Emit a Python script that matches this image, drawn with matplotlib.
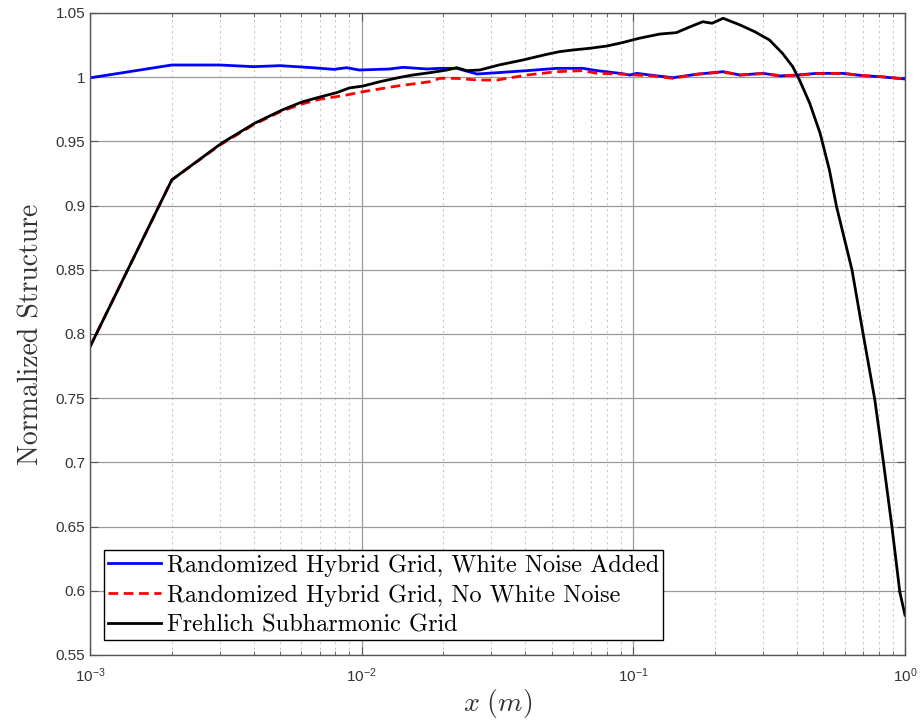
"""Normalized structure function vs separation, three phase screen grids."""
import numpy as np
import matplotlib
matplotlib.use("Agg")
import matplotlib.pyplot as plt
from matplotlib.ticker import FixedLocator, LogLocator, NullFormatter, FuncFormatter

# sans tick labels, cm for the x label
plt.rcParams["mathtext.fontset"] = "custom"
plt.rcParams["mathtext.rm"] = "Liberation Sans"
plt.rcParams["mathtext.it"] = "Liberation Sans:italic"
plt.rcParams["font.family"] = "Liberation Sans"

# ---- data ----
x_blue = [0.001, 0.002, 0.003, 0.004, 0.005, 0.0066, 0.0079, 0.0088, 0.0098,
          0.0127, 0.0142, 0.0174, 0.0194, 0.0224, 0.0266, 0.0315, 0.0406,
          0.0523, 0.0652, 0.0735, 0.0893, 0.0971, 0.103, 0.115, 0.140,
          0.171, 0.214, 0.247, 0.300, 0.347, 0.400, 0.474, 0.590, 0.700,
          0.808, 1.0]
y_blue = [0.9995, 1.0095, 1.0095, 1.0082, 1.0090, 1.0074, 1.0061, 1.0074, 1.0056,
          1.0064, 1.0077, 1.0064, 1.0069, 1.0069, 1.0025, 1.0035, 1.0051,
          1.0069, 1.0069, 1.0051, 1.0030, 1.0017, 1.0030, 1.0017, 0.9996,
          1.0023, 1.0043, 1.0017, 1.0030, 1.0010, 1.0017, 1.0030, 1.0030, 1.0012,
          1.0004, 0.9986]

x_red = [0.001, 0.002, 0.003, 0.004, 0.005, 0.006, 0.007, 0.0088, 0.0101,
         0.0135, 0.0178, 0.0194, 0.0224, 0.0266, 0.0315, 0.0406, 0.0523,
         0.0652, 0.0735, 0.0893, 0.103, 0.118, 0.140, 0.171, 0.214, 0.247,
         0.300, 0.347, 0.400, 0.474, 0.590, 0.700, 0.808, 1.0]
y_red = [0.790, 0.920, 0.947, 0.963, 0.973, 0.979, 0.9828, 0.9861, 0.9887,
         0.9931, 0.9965, 0.9991, 0.9991, 0.9978, 0.9978, 1.0017, 1.0043,
         1.0051, 1.0030, 1.0025, 1.0017, 1.0010, 0.9991, 1.0023, 1.0040, 1.0017,
         1.0028, 1.0012, 1.0015, 1.0028, 1.0030, 1.0012, 1.0006, 0.9986]

x_black = [0.001, 0.002, 0.00306, 0.00405, 0.0051, 0.00603, 0.00702, 0.0081,
           0.0090, 0.0101, 0.01167, 0.01384, 0.0154, 0.0178, 0.0206, 0.0224,
           0.0244, 0.0272, 0.032, 0.0392, 0.048, 0.0535, 0.060, 0.069, 0.080,
           0.091, 0.105, 0.125, 0.144, 0.162, 0.180, 0.195, 0.214, 0.247, 0.28,
           0.317, 0.354, 0.386, 0.409, 0.446, 0.487, 0.527, 0.56, 0.638, 0.70,
           0.774, 0.833, 0.895, 0.957, 1.0]
y_black = [0.790, 0.920, 0.9488, 0.9643, 0.9745, 0.9807, 0.9846, 0.9880,
           0.9916, 0.9931, 0.9965, 0.9999, 1.0017, 1.0035, 1.0056, 1.0074,
           1.0051, 1.0056, 1.0095, 1.0134, 1.0178, 1.0199, 1.0212, 1.0225, 1.0243,
           1.0269, 1.0303, 1.0336, 1.0347, 1.0393, 1.0432, 1.0420, 1.0459, 1.0407,
           1.0354, 1.0290, 1.0186, 1.0082, 0.9978, 0.9797, 0.9563, 0.9277, 0.899,
           0.850, 0.801, 0.749, 0.700, 0.650, 0.599, 0.581]

labels = ["Randomized Hybrid Grid, White Noise Added",
          "Randomized Hybrid Grid, No White Noise",
          "Frehlich Subharmonic Grid"]

fig = plt.figure(figsize=(9.21, 7.25), dpi=100)
ax = fig.add_axes([90 / 921, 1 - 655 / 725, 815 / 921, 642 / 725])

ax.plot(x_blue, y_blue, color="#0000ff", lw=2, label=labels[0])
ax.plot(x_red, y_red, color="#ff0000", lw=2, ls=(0, (3.5, 2)), label=labels[1])
ax.plot(x_black, y_black, color="black", lw=2, label=labels[2])

ax.set_xscale("log")
ax.set_xlim(1e-3, 1)
ax.set_ylim(0.55, 1.05)
ax.yaxis.set_major_locator(FixedLocator(np.arange(0.55, 1.0501, 0.05)))
ax.yaxis.set_major_formatter(FuncFormatter(lambda v, p: "%g" % round(v, 2)))
ax.xaxis.set_major_locator(FixedLocator([1e-3, 1e-2, 1e-1, 1]))
ax.xaxis.set_major_formatter(FuncFormatter(
    lambda v, p: r"$10^{%d}$" % int(round(np.log10(v)))))
ax.xaxis.set_minor_locator(LogLocator(base=10, subs=np.arange(2, 10)))
ax.xaxis.set_minor_formatter(NullFormatter())

# matlab look: grid, box, inward ticks
ax.grid(True, which="major", color="#9a9a9a", lw=0.9, ls="-")
ax.grid(True, which="minor", axis="x", color="#c8c8c8", lw=0.8, ls=(0, (2, 3)))
ax.set_axisbelow(True)
for s in ax.spines.values():
    s.set_color("#555555")
    s.set_linewidth(1.0)
ax.tick_params(which="both", direction="in", top=True, right=True,
               colors="#555555", labelcolor="#333333", labelsize=11)
ax.tick_params(which="major", length=6)
ax.tick_params(which="minor", length=3)
ax.tick_params(axis="x", pad=8)

ax.set_ylabel("Normalized Structure", family="cmr10", fontsize=20,
              color="#333333", labelpad=8)
ax.set_xlabel(r"$x\ \mathrm{(}m\mathrm{)}$", fontsize=20, color="#333333",
              math_fontfamily="cm", labelpad=2)

leg = ax.legend(loc="lower left", bbox_to_anchor=(0.017, 0.023),
                prop={"family": "cmr10", "size": 17.5}, fancybox=False,
                framealpha=1, edgecolor="black", handlelength=2.18,
                handletextpad=0.25, borderpad=0.17, labelspacing=0.3,
                borderaxespad=0)
leg.get_frame().set_linewidth(1.0)

fig.savefig("out.png", dpi=100)
